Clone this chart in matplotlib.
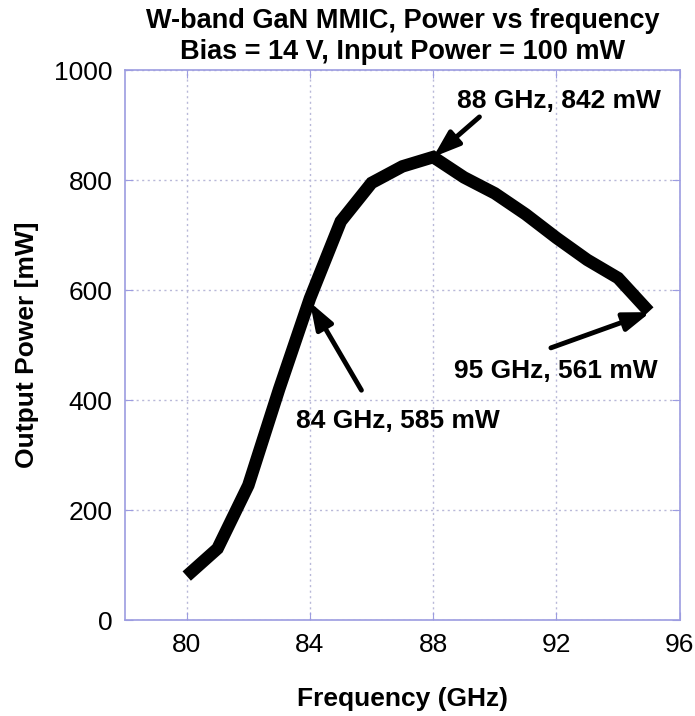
import numpy as np
import matplotlib.pyplot as plt

plt.rcParams['font.family'] = ['Liberation Sans', 'DejaVu Sans']

freq_ghz = [80, 81, 82, 83, 84, 85, 86, 87, 88, 89, 90, 91, 92, 93, 94, 95]
power_mw = [80, 130, 245, 420, 585, 725, 795, 825, 842, 805, 776, 738, 695, 655, 622, 561]

x_ticks = [80, 84, 88, 92, 96]
y_ticks = [0, 200, 400, 600, 800, 1000]

# label, text position (left, baseline), arrow tail, arrow tip
notes = [
    ("88 GHz, 842 mW", (88.78, 931), (89.5, 915), (88, 842)),
    ("84 GHz, 585 mW", (83.54, 349), (85.67, 418), (84, 578)),
    ("95 GHz, 561 mW", (88.69, 440), (91.82, 495), (95.05, 560)),
]

frame_col = '#9c9ce0'
grid_col = '#b8b8d8'

fig = plt.figure(figsize=(6.95, 7.16), dpi=100)
ax = fig.add_axes([0.18, 0.134, 0.798, 0.768])

ax.plot(freq_ghz, power_mw, color='black', lw=9, solid_joinstyle='miter',
        solid_capstyle='butt')

for label, txt, tail, tip in notes:
    ax.text(txt[0], txt[1], label, fontsize=19, fontweight='bold',
            ha='left', va='baseline')
    ax.annotate('', xy=tip, xytext=tail,
                arrowprops=dict(arrowstyle='-|>,head_length=0.8,head_width=0.28',
                                mutation_scale=20, color='black', lw=3.5,
                                shrinkA=0, shrinkB=0))

ax.set_xlim(78, 96)
ax.set_ylim(0, 1000)
ax.set_xticks(x_ticks)
ax.set_yticks(y_ticks)
ax.grid(True, linestyle=(0, (1.5, 2.5)), color=grid_col, lw=1)
ax.tick_params(direction='in', top=True, right=True, length=6, color=frame_col,
               labelsize=19, pad=9)
for sp in ax.spines.values():
    sp.set_color(frame_col)
    sp.set_linewidth(1.2)

ax.set_xlabel('Frequency (GHz)', fontsize=19, fontweight='bold', labelpad=22)
ax.set_ylabel('Output Power [mW]', fontsize=19, fontweight='bold', labelpad=11)
ax.set_title('W-band GaN MMIC, Power vs frequency\nBias = 14 V, Input Power = 100 mW',
             fontsize=19.5, fontweight='bold', pad=8, linespacing=1.25)

fig.savefig('out.png', dpi=100)
